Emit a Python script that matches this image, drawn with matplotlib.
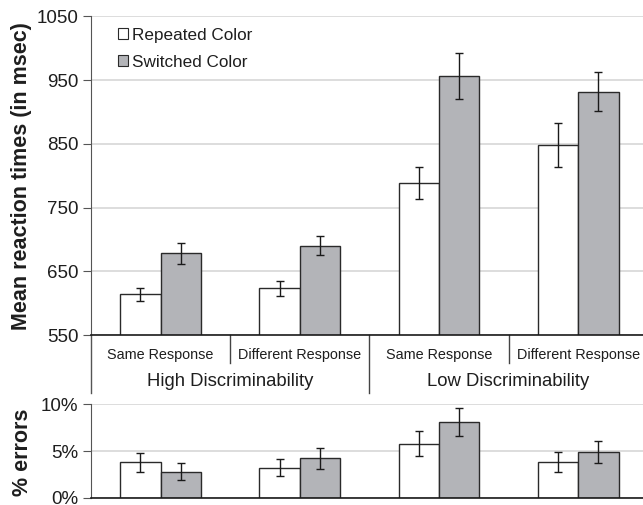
import matplotlib
matplotlib.use("Agg")
import matplotlib.pyplot as plt
import numpy as np

plt.rcParams['font.family'] = ['Liberation Sans', 'DejaVu Sans']

sub_labels = ["Same Response", "Different Response", "Same Response", "Different Response"]
group_labels = ["High Discriminability", "Low Discriminability"]
series_names = ["Repeated Color", "Switched Color"]

rt_repeated = [614, 623, 788, 848]
rt_repeated_err = [10, 12, 25, 35]
rt_switched = [678, 690, 957, 932]
rt_switched_err = [16, 15, 36, 30]

err_repeated = [3.8, 3.2, 5.8, 3.8]
err_repeated_err = [1.0, 0.9, 1.3, 1.1]
err_switched = [2.8, 4.2, 8.1, 4.9]
err_switched_err = [0.9, 1.1, 1.5, 1.2]

W, H = 643, 505
fig = plt.figure(figsize=(W / 100, H / 100), dpi=100)

left = 91 / W
right = 647.8 / W
ax = fig.add_axes([left, 1 - 335 / H, right - left, (335 - 16.3) / H])
ax2 = fig.add_axes([left, 1 - 497.7 / H, right - left, (497.7 - 404.3) / H])

grey = "#b3b4b8"
edge = "#2a2a2a"
gridc = "#d3d3d3"
textc = "#1e1e1e"
spinec = "#555555"
x = np.arange(4)
bw = 0.29

def style(a):
    for s in ["top", "right"]:
        a.spines[s].set_visible(False)
    a.spines["left"].set_color(spinec)
    a.spines["bottom"].set_color("#1a1a1a")
    a.spines["bottom"].set_linewidth(1.2)
    a.set_axisbelow(True)
    a.yaxis.grid(True, color=gridc, linewidth=1.1)
    a.tick_params(axis="y", direction="out", length=6, color=spinec,
                  labelsize=13.5, labelcolor=textc, pad=3)
    a.tick_params(axis="x", length=0, labelbottom=False)
    a.set_xlim(-0.5, 3.5)

ekw = dict(ecolor="#1a1a1a", elinewidth=1.0, capsize=3, capthick=1.0)

# top panel
ax.bar(x - bw / 2, rt_repeated, bw, color="white", edgecolor=edge, linewidth=1.0,
       yerr=rt_repeated_err, error_kw=ekw, label=series_names[0])
ax.bar(x + bw / 2, rt_switched, bw, color=grey, edgecolor=edge, linewidth=1.0,
       yerr=rt_switched_err, error_kw=ekw, label=series_names[1])
ax.set_ylim(550, 1050)
ax.set_yticks([550, 650, 750, 850, 950, 1050])
style(ax)

leg = ax.legend(loc="upper left", bbox_to_anchor=(0.027, 1.002), frameon=False,
                fontsize=12.3, handlelength=0.6, handleheight=0.6, handletextpad=0.2,
                labelspacing=0.72, borderpad=0.2, labelcolor=textc)
for p in leg.get_patches():
    p.set_linewidth(0.8)

# category label area below top panel
tr = ax.get_xaxis_transform()
for xv in [0.5, 2.5]:
    ax.plot([xv, xv], [0, -0.088], transform=tr, color="#444444", lw=1.0, clip_on=False)
ax.plot([1.5, 1.5], [0, -0.182], transform=tr, color="#444444", lw=1.0, clip_on=False)
ax.plot([-0.5, -0.5], [0, -0.182], transform=tr, color=spinec, lw=1.0, clip_on=False)
for i, lab in enumerate(sub_labels):
    ax.text(i, -0.063, lab, transform=tr, ha="center", va="center", fontsize=10.4, color=textc)
for g, lab in enumerate(group_labels):
    ax.text(0.5 + 2 * g, -0.147, lab, transform=tr, ha="center", va="center",
            fontsize=13.3, color=textc)

# bottom panel
ax2.bar(x - bw / 2, err_repeated, bw, color="white", edgecolor=edge, linewidth=1.0,
        yerr=err_repeated_err, error_kw=ekw)
ax2.bar(x + bw / 2, err_switched, bw, color=grey, edgecolor=edge, linewidth=1.0,
        yerr=err_switched_err, error_kw=ekw)
ax2.set_ylim(0, 10)
ax2.set_yticks([0, 5, 10])
ax2.set_yticklabels(["0%", "5%", "10%"])
style(ax2)

# axis titles
fig.text(22 / W, 1 - 176 / H, "Mean reaction times (in msec)", rotation=90,
         ha="center", va="center", fontsize=15.5, fontweight="bold", color=textc)
fig.text(23 / W, 1 - 452 / H, "% errors", rotation=90,
         ha="center", va="center", fontsize=15.5, fontweight="bold", color=textc)

fig.savefig("out.png", dpi=100)
